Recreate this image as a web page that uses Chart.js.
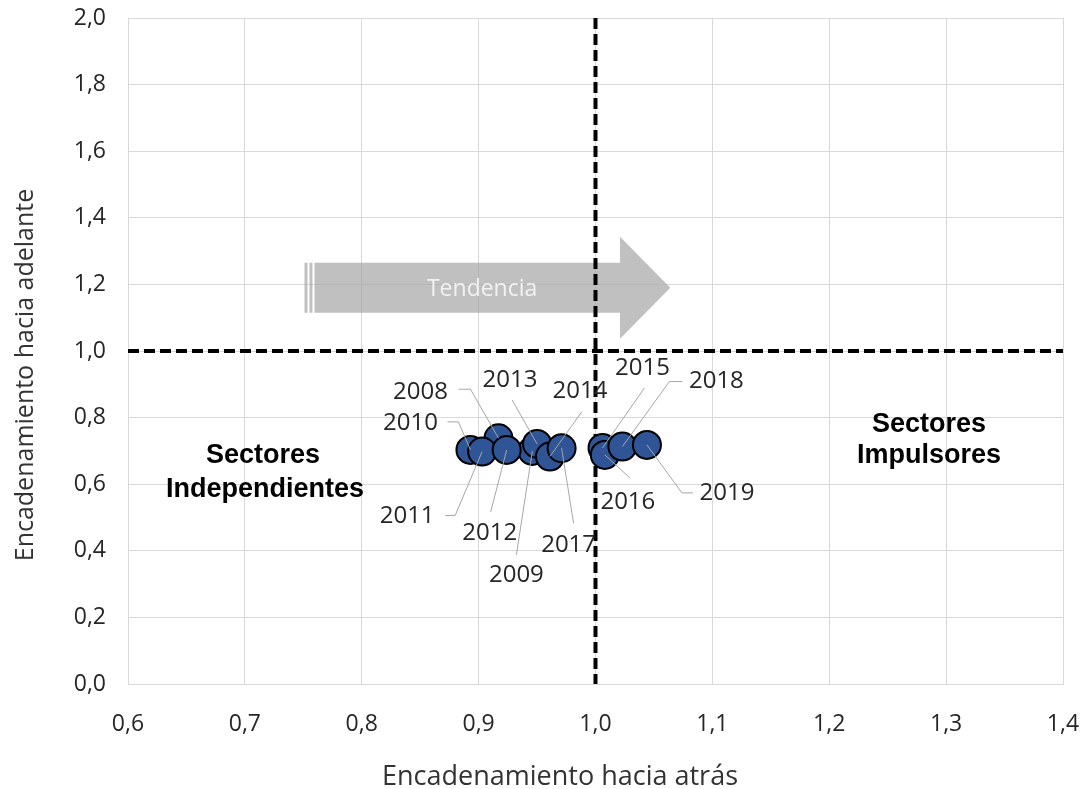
<!DOCTYPE html>
<html>
<head>
<meta charset="utf-8">
<script src="https://cdn.jsdelivr.net/npm/chart.js@4.4.0/dist/chart.umd.min.js"></script>
<style>
html,body{margin:0;padding:0;background:#fff;}
#wrap{width:1086px;height:789px;}
</style>
</head>
<body>
<div id="wrap"><canvas id="canvas" width="1086" height="789"></canvas></div>
<script>
// data
const years=["2008","2009","2010","2011","2012","2013","2014","2015","2016","2017","2018","2019"];
const backward=[0.917,0.946,0.893,0.903,0.924,0.950,0.961,1.006,1.008,0.971,1.023,1.044];
const forward=[0.738,0.700,0.703,0.698,0.703,0.721,0.683,0.709,0.688,0.708,0.713,0.718];

// label text offset + leader bends, px from the marker
const labelPos=[
    [-78,-46,[[-28,-49],[-40,-49]]],
    [-16,124,[[-16,104]]],
    [-60,-27,[[-12,-28],[-23,-28]]],
    [-75,65,[[-27,64],[-37,64]]],
    [-17,83,[[-16,62]]],
    [-27,-64,[[-25,-44]]],
    [30,-65,[[32,-45]]],
    [40,-80,[[42,-60]]],
    [23,47,[[25,23]]],
    [7,97,[[12,75]]],
    [94,-65,[[47,-65],[60,-65]]],
    [80,48,[[35,48],[46,48]]]
];

const FONT="'Open Sans', sans-serif";

function fmt(v){
    return v.toFixed(1).replace(".",",");
}

const extras={
    id:"extras",
    beforeDatasetsDraw(chart){
        const ctx=chart.ctx;
        const x=chart.scales.x;
        const y=chart.scales.y;
        const area=chart.chartArea;
        ctx.save();
        // trend arrow
        const x0=x.getPixelForValue(0.751);
        const xb=x.getPixelForValue(1.021);
        const xt=x.getPixelForValue(1.064);
        const yc=y.getPixelForValue(1.19);
        const hb=25,hh=51;
        ctx.fillStyle="rgba(162,162,162,0.68)";
        ctx.fillRect(x0,yc-hb,3,hb*2);
        ctx.fillRect(x0+5,yc-hb,3,hb*2);
        ctx.beginPath();
        ctx.moveTo(x0+10,yc-hb);
        ctx.lineTo(xb,yc-hb);
        ctx.lineTo(xb,yc-hh);
        ctx.lineTo(xt,yc);
        ctx.lineTo(xb,yc+hh);
        ctx.lineTo(xb,yc+hb);
        ctx.lineTo(x0+10,yc+hb);
        ctx.closePath();
        ctx.fill();
        ctx.fillStyle="#F2F2F2";
        ctx.font="23px "+FONT;
        ctx.textAlign="center";
        ctx.textBaseline="middle";
        ctx.fillText("Tendencia",x.getPixelForValue(0.903),yc+2);
        // quadrant lines
        ctx.strokeStyle="#000";
        ctx.lineWidth=4;
        ctx.setLineDash([11,5]);
        const vx=x.getPixelForValue(1.0);
        const hy=y.getPixelForValue(1.0);
        ctx.beginPath();
        ctx.moveTo(area.left,hy);
        ctx.lineTo(area.right,hy);
        ctx.stroke();
        ctx.beginPath();
        ctx.moveTo(vx,area.top);
        ctx.lineTo(vx,area.bottom);
        ctx.stroke();
        ctx.setLineDash([]);
        // quadrant names
        ctx.fillStyle="#000";
        ctx.font="bold 27px 'Liberation Sans', Arial, sans-serif";
        ctx.textBaseline="alphabetic";
        ctx.fillText("Sectores",263,463);
        ctx.fillText("Independientes",265,497);
        ctx.fillText("Sectores",929,432);
        ctx.fillText("Impulsores",929,463);
        ctx.restore();
    },
    afterDatasetsDraw(chart){
        const ctx=chart.ctx;
        const meta=chart.getDatasetMeta(0);
        ctx.save();
        ctx.strokeStyle="#A6A6A6";
        ctx.lineWidth=1;
        meta.data.forEach((pt,i)=>{
            const bends=labelPos[i][2];
            ctx.beginPath();
            ctx.moveTo(pt.x,pt.y);
            bends.forEach(b=>ctx.lineTo(pt.x+b[0],pt.y+b[1]));
            ctx.stroke();
        });
        ctx.fillStyle="#262626";
        ctx.font="24px "+FONT;
        ctx.textAlign="center";
        ctx.textBaseline="middle";
        meta.data.forEach((pt,i)=>{
            ctx.fillText(years[i],pt.x+labelPos[i][0],pt.y+labelPos[i][1]);
        });
        // axis titles
        ctx.fillStyle="#333";
        ctx.textBaseline="alphabetic";
        ctx.font="27px "+FONT;
        ctx.fillText("Encadenamiento hacia atrás",560,785);
        ctx.translate(33,375);
        ctx.rotate(-Math.PI/2);
        ctx.font="25px "+FONT;
        ctx.fillText("Encadenamiento hacia adelante",0,0);
        ctx.restore();
    }
};

const points=backward.map((v,i)=>({x:v,y:forward[i]}));

new Chart(document.getElementById("canvas"),{
    type:"scatter",
    data:{
        datasets:[{
            data:points,
            backgroundColor:"#2F5597",
            borderColor:"#000",
            borderWidth:2,
            pointRadius:14,
            pointHoverRadius:14
        }]
    },
    options:{
        responsive:false,
        devicePixelRatio:1,
        animation:false,
        layout:{padding:{top:18,right:23,left:0,bottom:0}},
        plugins:{legend:{display:false},tooltip:{enabled:false}},
        scales:{
            x:{
                min:0.6,max:1.4,
                ticks:{stepSize:0.1,callback:v=>fmt(v),color:"#262626",font:{family:FONT,size:23},padding:2},
                grid:{color:"#D9D9D9",tickLength:25,tickColor:"rgba(0,0,0,0)"},
                border:{color:"#D9D9D9"},
                afterFit:s=>{s.height=105;}
            },
            y:{
                min:0,max:2,
                ticks:{stepSize:0.2,callback:v=>fmt(v),color:"#262626",font:{family:FONT,size:23},padding:2},
                grid:{color:"#D9D9D9",tickLength:20,tickColor:"rgba(0,0,0,0)"},
                border:{color:"#D9D9D9"},
                afterFit:s=>{s.width=128;}
            }
        }
    },
    plugins:[extras]
});
</script>
</body>
</html>
